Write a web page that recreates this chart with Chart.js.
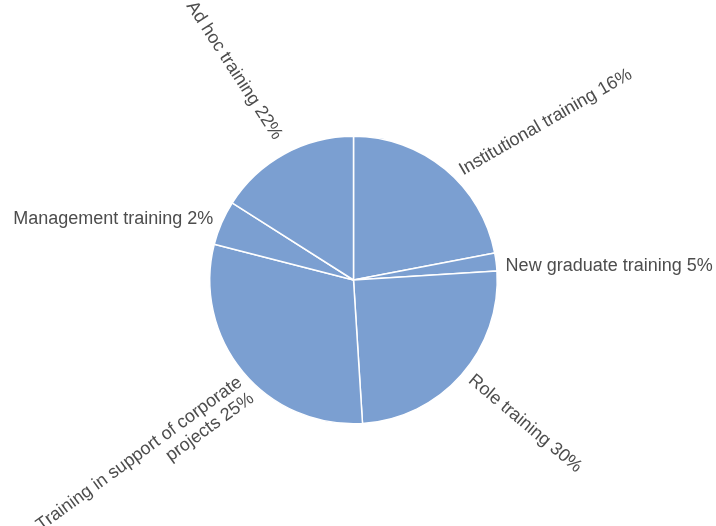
<!DOCTYPE html>
<html>
<head>
<meta charset="utf-8">
<script src="https://cdn.jsdelivr.net/npm/chart.js@4/dist/chart.umd.min.js"></script>
<style>
  html, body { margin: 0; padding: 0; background: #fff; }
  #wrap { width: 716px; height: 526px; }
</style>
</head>
<body>
<div id="wrap"><canvas id="pie"></canvas></div>
<script>
// training mix, in the order the survey lists it
var categories = ['Institutional training', 'New graduate training', 'Role training',
  'Training in support of corporate projects', 'Management training', 'Ad hoc training'];
var shares = [16, 5, 30, 25, 2, 22];

// slices go counter-clockwise from 12 o'clock, Chart.js goes clockwise -> reverse
var sliceShares = shares.slice().reverse();
var sliceNames = categories.slice().reverse();

// labels are written clockwise round the pie in list order
// tilt = text rotation (deg), nudge = shift along the rim (deg), out = gap from the rim (px)
var labelLayout = [
  { tilt: -30, nudge: 5, out: 9 },
  { tilt: 0, nudge: 2, out: 9 },
  { tilt: 40, nudge: -1.5, out: 9 },
  { tilt: -36, nudge: -5.7, out: 9 },
  { tilt: 0, nudge: 0, out: 9 },
  { tilt: 57, nudge: 0.8, out: 17 }
];

function wrap(ctx, text, maxWidth) {
  var words = text.split(' '), lines = [], line = '';
  words.forEach(function(w) {
    var test = line ? line + ' ' + w : w;
    if (line && ctx.measureText(test).width > maxWidth) {
      lines.push(line);
      line = w;
    } else {
      line = test;
    }
  });
  lines.push(line);
  return lines;
}

var sliceLabels = {
  id: 'sliceLabels',
  afterDatasetsDraw: function(chart) {
    var ctx = chart.ctx;
    var arcs = chart.getDatasetMeta(0).data;
    ctx.save();
    ctx.font = '18px "Liberation Sans", Arial, sans-serif';
    ctx.fillStyle = '#4d4d4d';
    ctx.textBaseline = 'middle';
    arcs.forEach(function(arc, j) {
      var p = arc.getProps(['x', 'y', 'startAngle', 'endAngle', 'outerRadius'], true);
      var lay = labelLayout[j];
      var mid = (p.startAngle + p.endAngle) / 2 + lay.nudge * Math.PI / 180;
      var r = p.outerRadius + lay.out;
      var ax = p.x + Math.cos(mid) * r;
      var ay = p.y + Math.sin(mid) * r;
      var lines = wrap(ctx, categories[j] + ' ' + shares[j] + '%', 262);
      ctx.save();
      ctx.translate(ax, ay);
      ctx.rotate(lay.tilt * Math.PI / 180);
      ctx.textAlign = Math.cos(mid) >= 0 ? 'left' : 'right';
      lines.forEach(function(line, k) {
        ctx.fillText(line, 0, (k - (lines.length - 1) / 2) * 20);
      });
      ctx.restore();
    });
    ctx.restore();
  }
};

new Chart(document.getElementById('pie'), {
  type: 'pie',
  data: {
    labels: sliceNames,
    datasets: [{
      data: sliceShares,
      backgroundColor: '#7b9fd1',
      borderColor: '#ffffff',
      borderWidth: 1.5
    }]
  },
  options: {
    responsive: true,
    maintainAspectRatio: false,
    animation: false,
    layout: { padding: { left: 209, right: 218, top: 135.5, bottom: 101.5 } },
    plugins: {
      legend: { display: false },
      tooltip: { enabled: false }
    }
  },
  plugins: [sliceLabels]
});
</script>
</body>
</html>
